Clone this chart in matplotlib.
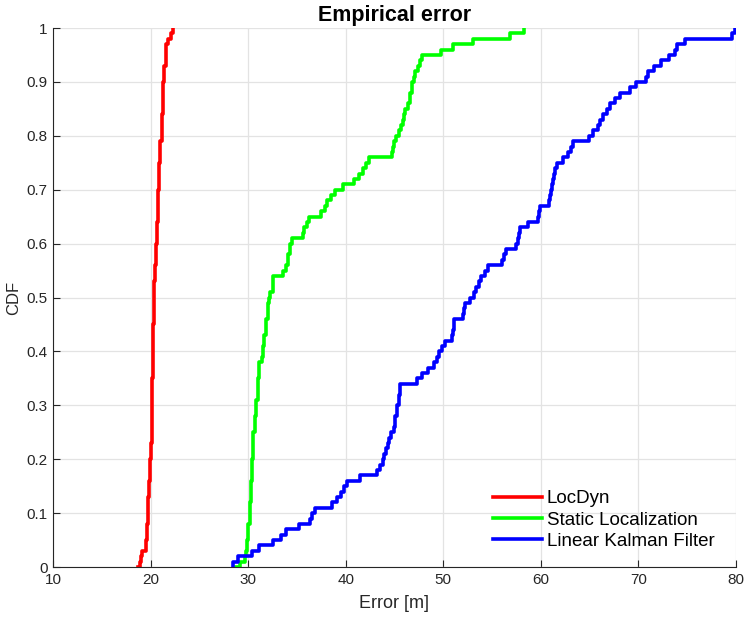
import numpy as np
import matplotlib
matplotlib.use("Agg")
import matplotlib.pyplot as plt
from matplotlib.ticker import FuncFormatter

# empirical CDF: jump positions [m] and CDF level after each jump
locdyn_x = [18.75, 18.9, 19.0, 19.15, 19.55, 19.6, 19.65, 19.7, 19.75, 19.85, 19.95,
            20.05, 20.1, 20.15, 20.25, 20.35, 20.45, 20.6, 20.7, 20.8, 20.9, 21.0,
            21.15, 21.3, 21.4, 21.55, 21.8, 22.1, 22.35]
locdyn_y = [0.0, 0.01, 0.02, 0.03, 0.05, 0.07, 0.08, 0.10, 0.13, 0.16, 0.20,
            0.23, 0.30, 0.35, 0.45, 0.53, 0.56, 0.60, 0.64, 0.70, 0.75, 0.79,
            0.84, 0.90, 0.93, 0.97, 0.98, 0.99, 1.0]

static_x = [28.8, 29.2, 29.7, 29.8, 29.9, 30.0, 30.15, 30.3, 30.4, 30.5, 30.7, 30.85,
            31.0, 31.15, 31.4, 31.5, 31.65, 31.8, 32.0, 32.1, 32.25, 32.6, 33.6, 33.9,
            34.1, 34.3, 34.5, 35.6, 35.7, 36.0, 36.2, 37.5, 37.9, 38.1, 38.5, 38.9,
            39.7, 40.9, 41.4, 41.8, 42.05, 42.4, 44.8, 44.9, 45.0, 45.15, 45.5, 45.7,
            45.9, 46.0, 46.1, 46.4, 46.6, 46.8, 47.0, 47.1, 47.45, 47.6, 47.8, 49.8,
            51.0, 53.1, 56.8, 58.3]
static_y = [0.0, 0.01, 0.02, 0.03, 0.05, 0.08, 0.12, 0.16, 0.20, 0.25, 0.28, 0.31,
            0.35, 0.38, 0.39, 0.41, 0.43, 0.46, 0.49, 0.50, 0.51, 0.54, 0.55, 0.56,
            0.58, 0.60, 0.61, 0.62, 0.63, 0.64, 0.65, 0.66, 0.67, 0.68, 0.69, 0.70,
            0.71, 0.72, 0.73, 0.74, 0.75, 0.76, 0.77, 0.78, 0.79, 0.80, 0.81, 0.82,
            0.83, 0.84, 0.85, 0.86, 0.88, 0.90, 0.91, 0.92, 0.93, 0.94, 0.95, 0.96,
            0.97, 0.98, 0.99, 1.0]

kalman_x = [28.5, 28.5, 29.0, 30.4, 31.15, 32.6, 33.4, 33.9, 35.2, 36.3, 36.5, 36.9,
            38.6, 39.1, 39.5, 39.8, 40.1, 41.5, 43.2, 43.5, 43.8, 43.95, 44.1, 44.3,
            44.45, 44.6, 45.0, 45.1, 45.3, 45.45, 45.6, 47.3, 47.8, 48.4, 49.1, 49.4,
            49.6, 49.9, 50.2, 50.9, 51.0, 51.1, 52.0, 52.1, 52.2, 52.8, 53.2, 53.4,
            53.7, 53.9, 54.3, 54.6, 56.0, 56.2, 56.4, 57.5, 57.7, 57.8, 57.9, 58.7,
            59.7, 59.8, 59.9, 60.8, 60.95, 61.05, 61.15, 61.25, 61.35, 61.5, 61.7,
            62.3, 62.8, 63.1, 63.3, 65.0, 65.4, 65.9, 66.1, 66.4, 66.8, 67.1, 67.6,
            68.1, 69.2, 69.75, 70.8, 71.0, 71.6, 72.3, 73.2, 73.8, 74.0, 74.8, 79.6,
            79.9]
kalman_y = [0.0, 0.01, 0.02, 0.03, 0.04, 0.05, 0.06, 0.07, 0.08, 0.09, 0.10, 0.11,
            0.12, 0.13, 0.14, 0.15, 0.16, 0.17, 0.18, 0.19, 0.20, 0.21, 0.22, 0.23,
            0.24, 0.25, 0.26, 0.28, 0.30, 0.32, 0.34, 0.35, 0.36, 0.37, 0.38, 0.39,
            0.40, 0.41, 0.42, 0.43, 0.44, 0.46, 0.47, 0.48, 0.49, 0.50, 0.51, 0.52,
            0.53, 0.54, 0.55, 0.56, 0.57, 0.58, 0.59, 0.60, 0.61, 0.62, 0.63, 0.64,
            0.65, 0.66, 0.67, 0.68, 0.69, 0.70, 0.71, 0.72, 0.73, 0.74, 0.75,
            0.76, 0.77, 0.78, 0.79, 0.80, 0.81, 0.82, 0.83, 0.84, 0.85, 0.86, 0.87,
            0.88, 0.89, 0.90, 0.91, 0.92, 0.93, 0.94, 0.95, 0.96, 0.97, 0.98, 0.99,
            1.0]

labels = ["LocDyn", "Static Localization", "Linear Kalman Filter"]
colors = ["#ff0000", "#00ff00", "#0000ff"]

plt.rcParams['font.family'] = ['Liberation Sans', 'DejaVu Sans']

fig = plt.figure(figsize=(7.47, 6.17), dpi=100)
ax = fig.add_axes([0.071, 0.081, 0.914, 0.8736])

for xs, ys, lab, c in zip([locdyn_x, static_x, kalman_x],
                          [locdyn_y, static_y, kalman_y], labels, colors):
    ax.step(xs, ys, where='post', color=c, lw=2.6, label=lab)

ax.set_xlim(10, 80)
ax.set_ylim(0, 1)
ax.set_xticks(np.arange(10, 81, 10))
ax.set_yticks(np.arange(0, 1.01, 0.1))
ax.yaxis.set_major_formatter(FuncFormatter(lambda v, p: '%g' % round(v, 1)))
ax.grid(True, color='#e3e3e3', lw=0.9)
ax.set_axisbelow(True)
for s in ['top', 'right']:
    ax.spines[s].set_visible(False)
for s in ['left', 'bottom']:
    ax.spines[s].set_color('#262626')
    ax.spines[s].set_linewidth(0.8)
ax.tick_params(direction='in', length=5, width=0.8, colors='#262626',
               labelsize=11, labelcolor='#262626', pad=4)

ax.set_title("Empirical error", fontsize=15.5, fontweight='bold', pad=5)
ax.set_xlabel("Error [m]", fontsize=13, color='#262626', labelpad=6)
ax.set_ylabel("CDF", fontsize=12, color='#262626', labelpad=4)

ax.legend(loc='lower left', frameon=False, fontsize=13.5, handlelength=2.6,
          handletextpad=0.25, labelspacing=0.22, borderaxespad=0.0,
          bbox_to_anchor=(0.634, 0.018))

fig.savefig("out.png", dpi=100)
